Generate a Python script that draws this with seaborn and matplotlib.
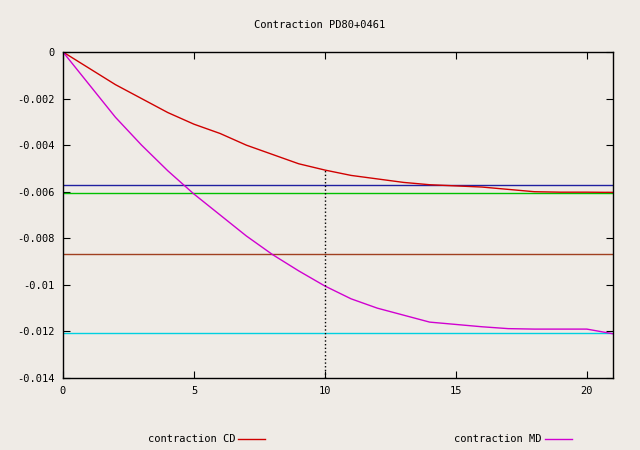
import matplotlib
matplotlib.use("Agg")
import matplotlib.pyplot as plt
import seaborn as sns
import pandas as pd

x_vals = [0, 1, 2, 3, 4, 5, 6, 7, 8, 9, 10, 11, 12, 13, 14, 15, 16, 17, 18, 19, 20, 21]
cd_vals = [0, -0.0007, -0.0014, -0.0020, -0.0026, -0.0031, -0.0035, -0.0040, -0.0044, -0.0048, -0.00507,
           -0.0053, -0.00545, -0.0056, -0.0057, -0.00575, -0.0058, -0.0059, -0.0060, -0.00602, -0.00602, -0.00603]
md_vals = [0, -0.0014, -0.0028, -0.0040, -0.0051, -0.0061, -0.0070, -0.0079, -0.0087, -0.0094, -0.01005,
           -0.0106, -0.0110, -0.0113, -0.0116, -0.01170, -0.0118, -0.01188, -0.0119, -0.0119, -0.0119, -0.0121]
hlines = [(-0.00571, "#2020a0"), (-0.00605, "#00c000"), (-0.00867, "#a04020"), (-0.01207, "#00d0e0")]
marker_x = 10
marker_y = -0.00507

bg = "#efebe6"
plt.rcParams["font.family"] = "DejaVu Sans Mono"
plt.rcParams["font.size"] = 7.5
fig = plt.figure(figsize=(6.4, 4.5), dpi=100, facecolor=bg)
ax = fig.add_axes([63/640, 1-378/450, 550/640, 326/450], facecolor=bg)

df = pd.DataFrame({"x": x_vals + x_vals,
                   "y": cd_vals + md_vals,
                   "s": ["contraction CD"]*len(x_vals) + ["contraction MD"]*len(x_vals)})
for y, c in hlines:
    ax.axhline(y, color=c, lw=1)
sns.lineplot(data=df, x="x", y="y", hue="s", palette={"contraction CD": "#d00000", "contraction MD": "#d000d0"},
             ax=ax, lw=1, legend=False)
ax.vlines(marker_x, -0.014, marker_y, colors="black", linestyles=":", lw=1)

ax.set_xlim(0, 21)
ax.set_ylim(-0.014, 0)
ax.set_xticks([0, 5, 10, 15, 20])
ax.set_yticks([0, -0.002, -0.004, -0.006, -0.008, -0.01, -0.012, -0.014])
ax.set_yticklabels(["0", "-0.002", "-0.004", "-0.006", "-0.008", "-0.01", "-0.012", "-0.014"])
ax.tick_params(direction="in", length=5, top=True, right=True, pad=6)
ax.set_xlabel(""); ax.set_ylabel("")
for s in ax.spines.values():
    s.set_linewidth(1)
fig.text(0.5, 1-25/450, "Contraction PD80+0461", ha="center", va="center")

fig.text(235/640, 1-439/450, "contraction CD", ha="right", va="center")
fig.add_artist(plt.Line2D([238/640, 265/640], [1-439/450]*2, color="#d00000", lw=1))
fig.text(542/640, 1-439/450, "contraction MD", ha="right", va="center")
fig.add_artist(plt.Line2D([545/640, 572/640], [1-439/450]*2, color="#d000d0", lw=1))

fig.savefig("out.png", facecolor=bg)
